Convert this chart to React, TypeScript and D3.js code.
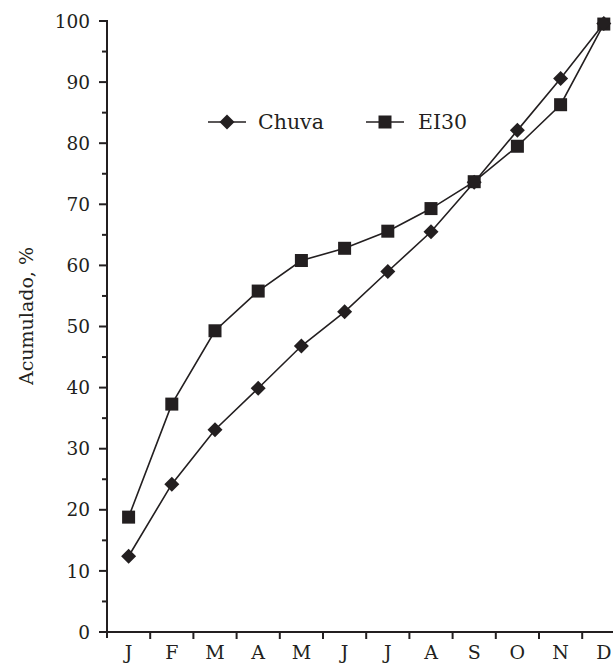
import React from "react";
import * as d3 from "d3";

const months = ["J", "F", "M", "A", "M", "J", "J", "A", "S", "O", "N", "D"];
const chuva = [12.4, 24.2, 33.1, 39.9, 46.8, 52.4, 59.0, 65.5, 73.6, 82.1, 90.6, 99.6];
const ei30 = [18.8, 37.3, 49.3, 55.8, 60.8, 62.8, 65.6, 69.3, 73.7, 79.5, 86.3, 99.5];
const yMajor = [0, 10, 20, 30, 40, 50, 60, 70, 80, 90, 100];
const yMinor = [5, 15, 25, 35, 45, 55, 65, 75, 85, 95];

const W = 613;
const H = 664;
const X0 = 107;
const X1 = 625.4;
const Y0 = 632;
const Y1 = 21;
const INK = "#231f20";
const FONT = "'DejaVu Serif', serif";

export default function App() {
  const idx = months.map((_, i) => i);
  const x = d3.scaleBand<number>().domain(idx).range([X0, X1]).padding(0);
  const y = d3.scaleLinear().domain([0, 100]).range([Y0, Y1]);
  const cx = (i: number) => (x(i) as number) + x.bandwidth() / 2;
  const line = d3
    .line<number>()
    .x((_, i) => cx(i))
    .y((d) => y(d));

  const diamond = (px: number, py: number, r = 7.5) =>
    `M${px},${py - r}L${px + r},${py}L${px},${py + r}L${px - r},${py}Z`;
  const sq = 13;

  return (
    <svg
      width={W}
      height={H}
      style={{ position: "absolute", left: 0, top: 0, background: "#fff" }}
    >
      {/* y axis */}
      <line x1={X0} x2={X0} y1={y(100) - 1} y2={Y0 + 6} stroke={INK} strokeWidth={2} />
      {yMajor.map((v) => (
        <g key={"ma" + v}>
          <line x1={X0 - 8} x2={X0} y1={y(v)} y2={y(v)} stroke={INK} strokeWidth={2} />
          <text
            x={X0 - 17}
            y={y(v)}
            dy="0.36em"
            textAnchor="end"
            fontFamily={FONT}
            fontSize={18.5}
            fill={INK}
          >
            {v}
          </text>
        </g>
      ))}
      {yMinor.map((v) => (
        <line key={"mi" + v} x1={X0 - 5} x2={X0} y1={y(v)} y2={y(v)} stroke={INK} strokeWidth={2} />
      ))}
      {/* x axis */}
      <line x1={X0} x2={X1} y1={Y0} y2={Y0} stroke={INK} strokeWidth={2} />
      {idx.map((i) => (
        <g key={"xt" + i}>
          {i > 0 && (
            <line
              x1={x(i) as number}
              x2={x(i) as number}
              y1={Y0}
              y2={Y0 + 7}
              stroke={INK}
              strokeWidth={2}
            />
          )}
          <text
            x={cx(i)}
            y={659}
            textAnchor="middle"
            fontFamily={FONT}
            fontSize={19}
            fill={INK}
          >
            {months[i]}
          </text>
        </g>
      ))}
      <text
        transform={`translate(33,316) rotate(-90)`}
        textAnchor="middle"
        fontFamily={FONT}
        fontSize={19}
        fill={INK}
      >
        Acumulado, %
      </text>

      {/* series */}
      <path d={line(chuva) || ""} fill="none" stroke={INK} strokeWidth={1.6} />
      <path d={line(ei30) || ""} fill="none" stroke={INK} strokeWidth={1.6} />
      {ei30.map((v, i) => (
        <rect
          key={"s" + i}
          x={cx(i) - sq / 2}
          y={y(v) - sq / 2}
          width={sq}
          height={sq}
          fill={INK}
        />
      ))}
      {chuva.map((v, i) => (
        <path key={"d" + i} d={diamond(cx(i), y(v))} fill={INK} />
      ))}

      {/* legend */}
      <line x1={208} x2={246} y1={122} y2={122} stroke={INK} strokeWidth={1.6} />
      <path d={diamond(227, 122)} fill={INK} />
      <text x={258} y={122} dy="0.36em" fontFamily={FONT} fontSize={20.5} fill={INK}>
        Chuva
      </text>
      <line x1={366} x2={404} y1={122} y2={122} stroke={INK} strokeWidth={1.6} />
      <rect x={385 - sq / 2} y={122 - sq / 2} width={sq} height={sq} fill={INK} />
      <text x={418} y={122} dy="0.36em" fontFamily={FONT} fontSize={20.5} fill={INK}>
        EI30
      </text>
    </svg>
  );
}
